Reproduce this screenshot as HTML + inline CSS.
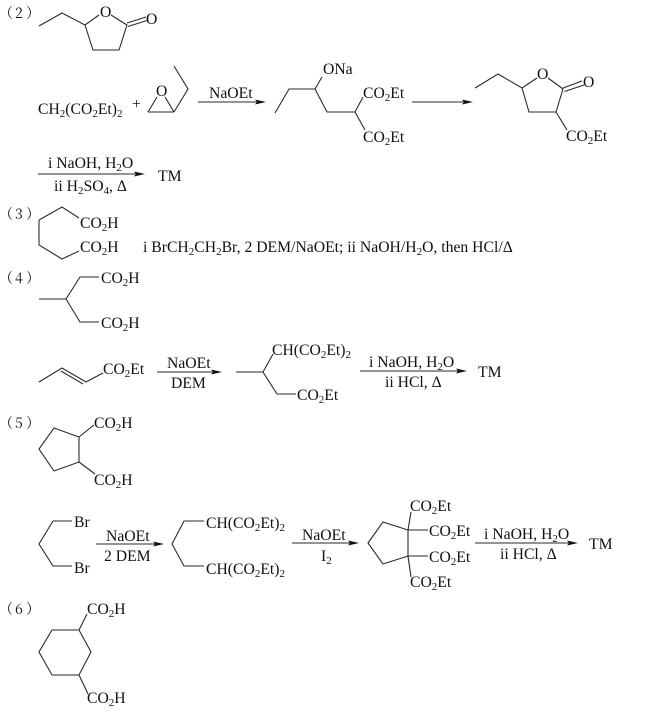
<!DOCTYPE html>
<html><head><meta charset="utf-8"><style>
html,body{margin:0;padding:0;background:#fff}
svg{display:block;filter:blur(.3px)}
text{font-family:"Liberation Serif","Noto Serif CJK SC",serif;font-size:15.7px;fill:#111}
.l{font-family:"Noto Serif CJK SC","Liberation Serif",serif;font-size:14px}
tspan.s{font-size:11px}
path.b{fill:none;stroke:#2a2a2a;stroke-width:1.1}
path.h{fill:#111}
</style></head><body>
<svg width="648" height="716" viewBox="0 0 648 716" xmlns="http://www.w3.org/2000/svg">
<path class="b" d="
M39 26L62 13L85 25L99 15M111 15L127 25L119 50H93L85 25M127 23L146 17M128 26.500L147 20.500
M148 112H174M148 112L157 97M174 112L165 97M174 112L188 89L174 66
M198 102H258
M275 113L289 89H315L322 77M315 89L327 112H355L363 97M355 112L365 130
M412 102H465
M475 88L498 74L522 88L537 78M548 78L563 89L556 112H529L522 88M563 88L582 81M564.500 91.500L584 85M556 112L567 130
M38 174H137
M39 220L62 207L79 218M39 220V245L62 259L79 251
M39 299H66L80 277H99M66 299L80 322H99
M39 382L62 368L86 382L103 373M61 371L83 384
M157 372H214
M236 372H263L273 354M263 372L277 394H296
M360 371H458
M54 428L79 437V462L54 471L39 449ZM79 437L94 425M79 462L95 474
M72 521H53L39 544L53 566H72
M96 544H156
M204 521H184L172 544L184 566H204
M292 543H351
M368 543L383 522L408 530V556L383 564ZM408 530L411 512M408 556L411 577M408 530H428M408 556H428
M475 543H570
M52 630H79L91 652L79 675H52L39 652ZM79 630L87 614M79 675L88 694
"/>
<path class="h" d="
M266 102l-11 -2.500l2 2.500l-2 2.500z
M473 102l-11 -2.500l2 2.500l-2 2.500z
M145 174l-11 -2.500l2 2.500l-2 2.500z
M222 372l-11 -2.500l2 2.500l-2 2.500z
M467 371l-11 -2.500l2 2.500l-2 2.500z
M164 544l-11 -2.500l2 2.500l-2 2.500z
M359 543l-11 -2.500l2 2.500l-2 2.500z
M578 543l-11 -2.500l2 2.500l-2 2.500z
"/>
<text class="l" x="-1 15 26" y="18">（2）</text>
<text class="l" x="-1 15 26" y="219">（3）</text>
<text class="l" x="-1 15 26" y="283">（4）</text>
<text class="l" x="-1 15 26" y="428">（5）</text>
<text class="l" x="-1 15 26" y="614">（6）</text>

<text x="100" y="17">O</text>
<text x="146" y="24">O</text>
<text x="38" y="114">CH<tspan class="s" dy="3">2</tspan><tspan dy="-3">(CO</tspan><tspan class="s" dy="3">2</tspan><tspan dy="-3">Et)</tspan><tspan class="s" dy="3">2</tspan></text>
<text x="132" y="109">+</text>
<text x="156" y="96">O</text>
<text x="209" y="98">NaOEt</text>
<text x="323" y="74">ONa</text>
<text x="363" y="98">CO<tspan class="s" dy="3">2</tspan><tspan dy="-3">Et</tspan></text>
<text x="363" y="142">CO<tspan class="s" dy="3">2</tspan><tspan dy="-3">Et</tspan></text>
<text x="537" y="79">O</text>
<text x="583" y="87">O</text>
<text x="566" y="141">CO<tspan class="s" dy="3">2</tspan><tspan dy="-3">Et</tspan></text>
<text x="48" y="168">i NaOH, H<tspan class="s" dy="3">2</tspan><tspan dy="-3">O</tspan></text>
<text x="54" y="191">ii H<tspan class="s" dy="3">2</tspan><tspan dy="-3">SO</tspan><tspan class="s" dy="3">4</tspan><tspan dy="-3">, Δ</tspan></text>
<text x="158" y="181">TM</text>

<text x="80" y="228">CO<tspan class="s" dy="3">2</tspan><tspan dy="-3">H</tspan></text>
<text x="80" y="252">CO<tspan class="s" dy="3">2</tspan><tspan dy="-3">H</tspan></text>
<text x="143" y="252">i BrCH<tspan class="s" dy="3">2</tspan><tspan dy="-3">CH</tspan><tspan class="s" dy="3">2</tspan><tspan dy="-3">Br, 2 DEM/NaOEt; ii NaOH/H</tspan><tspan class="s" dy="3">2</tspan><tspan dy="-3">O, then HCl/Δ</tspan></text>

<text x="101" y="283">CO<tspan class="s" dy="3">2</tspan><tspan dy="-3">H</tspan></text>
<text x="101" y="328">CO<tspan class="s" dy="3">2</tspan><tspan dy="-3">H</tspan></text>
<text x="103" y="374">CO<tspan class="s" dy="3">2</tspan><tspan dy="-3">Et</tspan></text>
<text x="167" y="368">NaOEt</text>
<text x="171" y="388">DEM</text>
<text x="272" y="355">CH(CO<tspan class="s" dy="3">2</tspan><tspan dy="-3">Et)</tspan><tspan class="s" dy="3">2</tspan></text>
<text x="297" y="400">CO<tspan class="s" dy="3">2</tspan><tspan dy="-3">Et</tspan></text>
<text x="369" y="367">i NaOH, H<tspan class="s" dy="3">2</tspan><tspan dy="-3">O</tspan></text>
<text x="385" y="387">ii HCl, Δ</text>
<text x="478" y="377">TM</text>

<text x="94" y="428">CO<tspan class="s" dy="3">2</tspan><tspan dy="-3">H</tspan></text>
<text x="94" y="485">CO<tspan class="s" dy="3">2</tspan><tspan dy="-3">H</tspan></text>
<text x="74" y="527">Br</text>
<text x="74" y="573">Br</text>
<text x="106" y="541">NaOEt</text>
<text x="104" y="561">2 DEM</text>
<text x="206" y="528">CH(CO<tspan class="s" dy="3">2</tspan><tspan dy="-3">Et)</tspan><tspan class="s" dy="3">2</tspan></text>
<text x="206" y="574">CH(CO<tspan class="s" dy="3">2</tspan><tspan dy="-3">Et)</tspan><tspan class="s" dy="3">2</tspan></text>
<text x="302" y="540">NaOEt</text>
<text x="321" y="561">I<tspan class="s" dy="3">2</tspan></text>
<text x="410" y="511">CO<tspan class="s" dy="3">2</tspan><tspan dy="-3">Et</tspan></text>
<text x="429" y="536">CO<tspan class="s" dy="3">2</tspan><tspan dy="-3">Et</tspan></text>
<text x="429" y="562">CO<tspan class="s" dy="3">2</tspan><tspan dy="-3">Et</tspan></text>
<text x="410" y="587">CO<tspan class="s" dy="3">2</tspan><tspan dy="-3">Et</tspan></text>
<text x="484" y="539">i NaOH, H<tspan class="s" dy="3">2</tspan><tspan dy="-3">O</tspan></text>
<text x="500" y="559">ii HCl, Δ</text>
<text x="589" y="549">TM</text>

<text x="87" y="614">CO<tspan class="s" dy="3">2</tspan><tspan dy="-3">H</tspan></text>
<text x="87" y="703">CO<tspan class="s" dy="3">2</tspan><tspan dy="-3">H</tspan></text>
</svg>
</body></html>
